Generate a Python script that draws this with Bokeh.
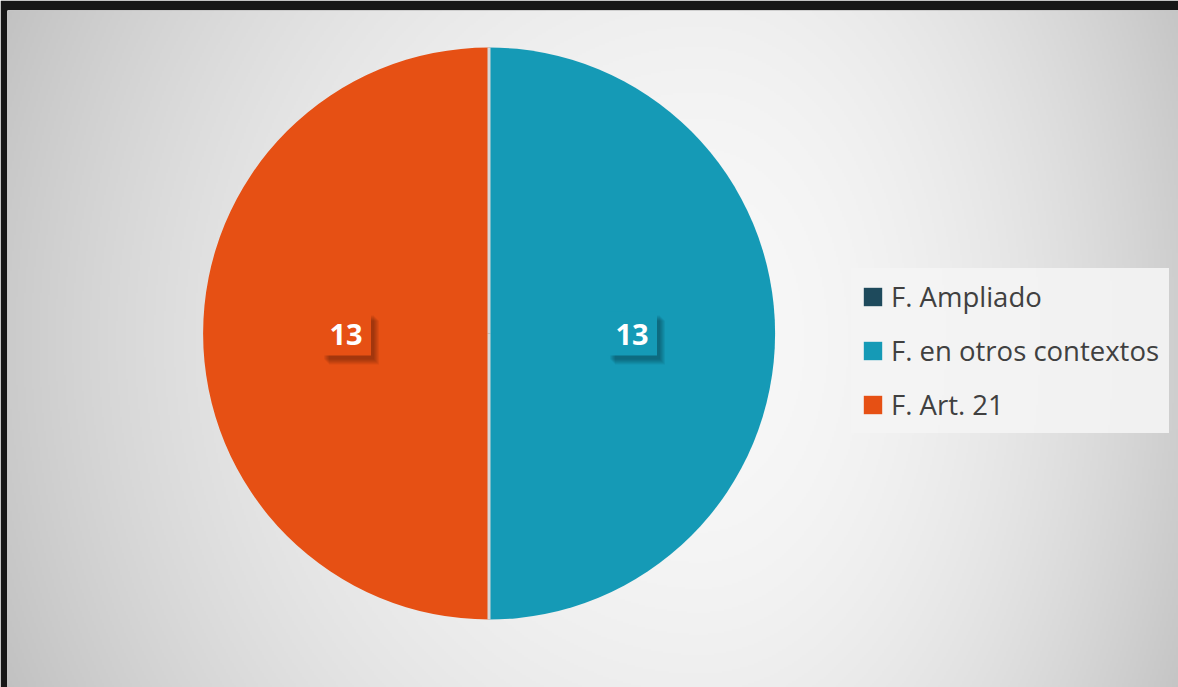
import numpy as np
from bokeh.plotting import figure
from bokeh.models import Range1d, ColumnDataSource, Legend, LegendItem
from bokeh.core.properties import value
from bokeh.embed import file_html
from bokeh.resources import INLINE

# ---- data ----
categories = ["F. Ampliado", "F. en otros contextos", "F. Art. 21"]
values = [0, 13, 13]
colors = ["#1E4A5C", "#159AB6", "#E65014"]

# ---- layout ----
W, H = 1178, 687
R = 286
p = figure(width=W, height=H,
           x_range=Range1d(-481.5, 689.5), y_range=Range1d(-354, 323),
           output_backend="svg", toolbar_location=None,
           x_axis_location=None, y_axis_location=None,
           min_border=0, min_border_top=10, min_border_left=7, min_border_right=0, min_border_bottom=0,
           border_fill_color="#171717", outline_line_color=None)
p.grid.visible = False

# ---- background radial gradient ----
gw, gh = 586, 339
sx = 7 + (np.arange(gw) + 0.5) * 1171 / gw
sy = 687 - (np.arange(gh) + 0.5) * 677 / gh
X, Y = np.meshgrid(sx, sy)
dx = X - 700
dy = Y - 340
rx = np.where(dx < 0, 780.0, 560.0)
d2 = (dx / rx) ** 2 + (dy / 840.0) ** 2
b = (248 - 57 * np.clip(d2, 0, 1)).astype(np.uint8)
img = np.empty((gh, gw), dtype=np.uint32)
view = img.view(dtype=np.uint8).reshape((gh, gw, 4))
view[..., 0] = b
view[..., 1] = b
view[..., 2] = b
view[..., 3] = 255
p.image_rgba(image=[img], x=-481.5, y=-354, dw=1171, dh=677)

# ---- pie ----
vals = np.array(values, dtype=float)
frac = vals / vals.sum()
cum = np.concatenate([[0.0], np.cumsum(frac)])
start = np.pi / 2 - cum[:-1] * 2 * np.pi
end = np.pi / 2 - cum[1:] * 2 * np.pi
radius = np.where(vals > 0, R, 0)
src = ColumnDataSource(dict(cat=categories, val=values, color=colors,
                            start=start, end=end, r=radius))
w = p.wedge(x=0, y=0, radius="r", start_angle="start", end_angle="end",
            direction="clock", fill_color="color", line_color=None, source=src)

nz = vals > 0
p.ray(x=0, y=0, length=R, angle=list(start[nz]), line_color="#d6d6d6", line_width=3)

# ---- data labels ----
mid = (start + end) / 2
lx = 0.5 * R * np.cos(mid[nz])
ly = 0.5 * R * np.sin(mid[nz])
lcol = [c for c, k in zip(colors, nz) if k]
ltxt = [str(int(v)) for v in vals[nz]]
for off in [8, 7, 6, 5, 4, 3]:
    p.rect(x=lx + off, y=ly - off - 1, width=50, height=44,
           width_units="screen", height_units="screen",
           fill_color="black", fill_alpha=0.055, line_color=None)
p.rect(x=lx, y=ly, width=50, height=44, width_units="screen", height_units="screen",
       fill_color=lcol, line_color=None)
p.text(x=lx, y=ly - 1, text=ltxt, text_align="center", text_baseline="middle",
       text_font=value("Open Sans"), text_font_style="bold",
       text_font_size="29px", text_color="white")

# ---- legend ----
items = [LegendItem(label=c, renderers=[w], index=i) for i, c in enumerate(categories)]
leg = Legend(items=items, location=(844, 254),
             glyph_width=23, glyph_height=23, label_standoff=7,
             label_text_font="Open Sans", label_text_font_size="27.5px",
             label_text_color="#404040", spacing=17, padding=10, margin=0,
             border_line_alpha=0, background_fill_color="#f4f4f4",
             background_fill_alpha=0.9)
p.add_layout(leg)

open("out.html", "w").write(file_html(p, INLINE))
